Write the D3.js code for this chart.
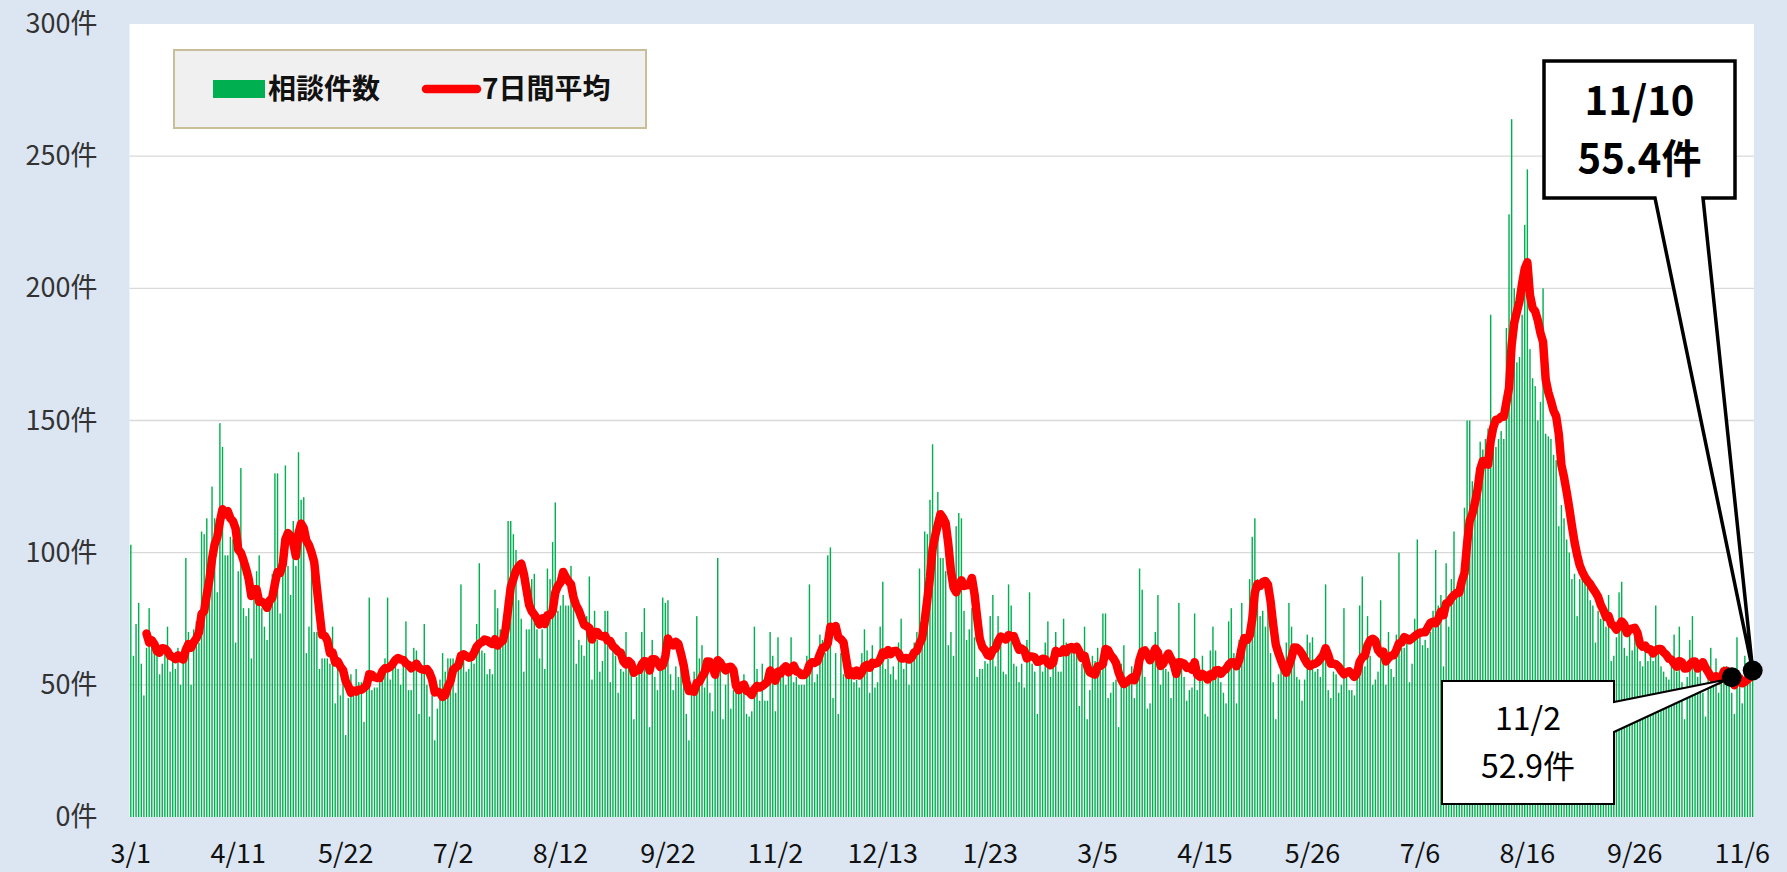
<!DOCTYPE html>
<html><head><meta charset="utf-8">
<script src="https://cdn.jsdelivr.net/npm/d3@7"></script>
<style>
html,body{margin:0;padding:0;background:#dce6f2;}
svg{display:block;}
</style></head><body>
<svg id="chart" width="1787" height="872"></svg>
<script>
// ---------- data ----------
const startDate = "2020-03-01";           // first day of the series
const counts = [
103,61,73,81,58,46,64,79,67,63,
62,54,58,63,72,55,60,56,64,50,
60,98,70,50,71,74,66,108,107,113,
90,125,113,85,149,140,99,99,106,105,
66,93,132,79,76,79,60,84,93,99,
79,72,67,79,92,130,130,77,95,133,
95,84,112,95,138,120,121,62,72,92,
70,70,56,60,60,60,58,72,43,59,
46,51,31,45,54,49,56,51,51,36,
52,83,48,49,49,51,54,60,83,52,
57,59,56,50,59,74,48,48,64,63,
39,55,73,50,38,46,29,41,52,62,
55,60,60,60,47,57,88,59,55,56,
62,58,73,96,63,62,54,56,54,86,
79,71,67,82,112,112,107,101,82,75,
55,71,71,90,92,71,60,71,56,94,
90,104,119,78,80,84,80,80,95,83,
58,67,65,61,76,91,52,78,67,55,
59,78,78,51,64,61,47,56,55,70,
60,57,37,53,57,70,79,58,34,67,
53,48,59,83,81,82,54,48,57,53,
57,51,39,29,48,55,76,60,65,49,
59,47,40,57,98,59,37,50,56,41,
48,56,48,48,54,39,38,40,72,56,
44,58,44,44,70,61,40,68,53,57,
50,54,68,51,53,50,50,50,61,88,
58,51,54,69,67,62,99,102,45,62,
39,62,54,55,59,55,51,52,49,62,
71,63,47,65,49,51,72,89,56,60,
54,57,52,66,75,56,61,50,62,66,
70,94,70,108,107,120,141,105,123,98,
98,93,65,70,61,110,115,113,78,67,
71,79,68,53,56,56,59,58,76,84,
57,76,68,55,54,88,80,58,57,51,
58,49,67,85,58,55,39,60,55,66,
74,53,62,70,55,55,75,66,65,64,
64,62,42,58,72,37,48,61,59,64,
59,77,77,45,47,51,52,34,58,65,
50,53,57,45,53,94,86,53,41,43,
59,70,84,50,59,56,55,45,57,57,
81,58,53,44,48,49,77,48,52,61,
39,38,63,72,63,53,51,47,43,74,
79,62,43,67,81,68,69,90,106,113,
90,76,78,72,80,62,51,37,54,58,
54,66,81,72,64,53,52,44,52,69,
66,68,55,56,53,61,88,48,45,55,
54,47,50,79,53,48,48,46,57,80,
91,57,76,61,50,52,55,82,62,50,
70,56,53,69,100,64,64,67,51,58,
75,105,68,65,67,64,70,78,101,80,
84,57,96,72,90,108,86,85,88,117,
150,150,127,115,120,142,139,143,147,190,
151,140,143,146,143,185,228,264,200,172,
174,190,224,245,177,166,163,150,157,200,
145,144,143,137,135,110,118,113,105,100,
90,92,76,90,96,91,90,82,80,66,
78,75,77,72,84,59,61,68,85,89,
64,61,69,63,70,72,59,57,64,59,
63,59,80,63,57,55,53,52,57,69,
55,72,51,37,53,67,76,56,53,58,
47,38,56,64,50,60,47,52,57,57,
50,47,39,68,50,43,61,56,53,57
];
const windowDays = 7;                       // 7日間平均
const tickStepDays = 41;                    // x tick every 41 days
const yTicks = [0, 50, 100, 150, 200, 250, 300];
const yUnit = "件";
const seriesNames = ["相談件数", "7日間平均"];
const calloutDates = ["2021-11-02", "2021-11-10"];

// ---------- derived ----------
const parse = d3.utcParse("%Y-%m-%d");
const day0 = parse(startDate);
const dates = counts.map((_, i) => d3.utcDay.offset(day0, i));
const avg = counts.map((_, i) => i < windowDays - 1 ? null : d3.mean(counts.slice(i - windowDays + 1, i + 1)));
const fmt = d => `${d.getUTCMonth() + 1}/${d.getUTCDate()}`;

// ---------- layout ----------
const P = {left: 129.5, right: 1754, top: 24, bottom: 817};
const FONT = "'Noto Sans CJK JP', 'Noto Sans', sans-serif";
const C = {bar: "#00b050", line: "#ff0000", grid: "#d9d9d9"};

const svg = d3.select("#chart");

const x = d3.scaleBand().domain(dates).range([P.left, P.right]).paddingInner(0.46).paddingOuter(0.23);
const y = d3.scaleLinear().domain([0, 300]).range([P.bottom, P.top]);
const cx = d => x(d) + x.bandwidth() / 2;

// plot background
svg.append("rect").attr("x", P.left).attr("y", P.top)
  .attr("width", P.right - P.left).attr("height", P.bottom - P.top).attr("fill", "#fff");

// gridlines
svg.append("g").selectAll("line").data(yTicks.filter(t => t > 0 && t < 300)).join("line")
  .attr("x1", P.left).attr("x2", P.right)
  .attr("y1", d => y(d)).attr("y2", d => y(d))
  .attr("stroke", C.grid).attr("stroke-width", 1.4);

// bars
svg.append("g").selectAll("rect").data(counts).join("rect")
  .attr("x", (d, i) => x(dates[i])).attr("width", x.bandwidth())
  .attr("y", d => y(d)).attr("height", d => y(0) - y(d))
  .attr("fill", C.bar);

// 7-day average line
const line = d3.line().defined(d => d != null).x((d, i) => cx(dates[i])).y(d => y(d));
svg.append("path").datum(avg).attr("d", line)
  .attr("fill", "none").attr("stroke", C.line).attr("stroke-width", 8.5)
  .attr("stroke-linejoin", "round").attr("stroke-linecap", "round");

// axes
const gx = svg.append("g").attr("transform", `translate(0,${P.bottom})`)
  .call(d3.axisBottom(x).tickValues(dates.filter((d, i) => i % tickStepDays === 0)).tickFormat(fmt).tickSize(0).tickPadding(27));
gx.select(".domain").remove();
gx.selectAll("text").attr("font-family", FONT).attr("font-size", 27).attr("fill", "#111");

const gy = svg.append("g").attr("transform", `translate(${P.left},0)`)
  .call(d3.axisLeft(y).tickValues(yTicks).tickFormat(d => d + yUnit).tickSize(0).tickPadding(32));
gy.select(".domain").remove();
gy.selectAll("text").attr("font-family", FONT).attr("font-size", 27).attr("fill", "#333");

// legend
const lg = svg.append("g");
lg.append("rect").attr("x", 174).attr("y", 50).attr("width", 472).attr("height", 78)
  .attr("fill", "#f0f0f0").attr("stroke", "#c8bf98").attr("stroke-width", 2);
lg.append("rect").attr("x", 213).attr("y", 80).attr("width", 52).attr("height", 18).attr("fill", C.bar);
lg.append("text").attr("x", 268).attr("y", 99).text(seriesNames[0])
  .attr("font-family", FONT).attr("font-weight", "bold").attr("font-size", 28).attr("fill", "#111");
lg.append("line").attr("x1", 426).attr("x2", 477).attr("y1", 89).attr("y2", 89)
  .attr("stroke", C.line).attr("stroke-width", 8.5).attr("stroke-linecap", "round");
lg.append("text").attr("x", 482).attr("y", 99).text(seriesNames[1])
  .attr("font-family", FONT).attr("font-weight", "bold").attr("font-size", 28).attr("fill", "#111");

// callouts
const idx = calloutDates.map(s => d3.bisectLeft(dates.map(d => +d), +parse(s)));
const pts = idx.map(i => ({x: cx(dates[i]), y: y(avg[i]), label: fmt(dates[i]), val: avg[i].toFixed(1) + yUnit}));

// callout for 11/2 (box at lower left, wedge to the right)
{
  const p = pts[0];
  const b = {x0: 1442, y0: 681, x1: 1614, y1: 804};
  svg.append("path")
    .attr("d", `M${b.x0},${b.y0}H${b.x1}V${b.y0 + 21}L${p.x - 4},${p.y + 2}L${b.x1},${b.y0 + 51}V${b.y1}H${b.x0}Z`)
    .attr("fill", "#fff").attr("stroke", "#000").attr("stroke-width", 2).attr("stroke-linejoin", "miter");
  const cxm = (b.x0 + b.x1) / 2;
  svg.append("text").attr("x", cxm).attr("y", 730).attr("text-anchor", "middle").text(p.label)
    .attr("font-family", FONT).attr("font-size", 32).attr("fill", "#000");
  svg.append("text").attr("x", cxm).attr("y", 778).attr("text-anchor", "middle").text(p.val)
    .attr("font-family", FONT).attr("font-size", 32).attr("fill", "#000");
}
// callout for 11/10 (box at top right, wedge down)
{
  const p = pts[1];
  const b = {x0: 1544, y0: 61, x1: 1735, y1: 198};
  svg.append("path")
    .attr("d", `M${b.x0},${b.y0}H${b.x1}V${b.y1}H${b.x1 - 32}L${p.x},${p.y}L${b.x0 + 111},${b.y1}H${b.x0}Z`)
    .attr("fill", "#fff").attr("stroke", "#000").attr("stroke-width", 3.5).attr("stroke-linejoin", "miter");
  const cxm = (b.x0 + b.x1) / 2;
  svg.append("text").attr("x", cxm).attr("y", 115).attr("text-anchor", "middle").text(p.label)
    .attr("font-family", FONT).attr("font-weight", "bold").attr("font-size", 40).attr("fill", "#000");
  svg.append("text").attr("x", cxm).attr("y", 173).attr("text-anchor", "middle").text(p.val)
    .attr("font-family", FONT).attr("font-weight", "bold").attr("font-size", 40).attr("fill", "#000");
}
// dots
svg.append("g").selectAll("circle").data(pts).join("circle")
  .attr("cx", d => d.x).attr("cy", d => d.y).attr("r", 10).attr("fill", "#000");
</script>
</body></html>
